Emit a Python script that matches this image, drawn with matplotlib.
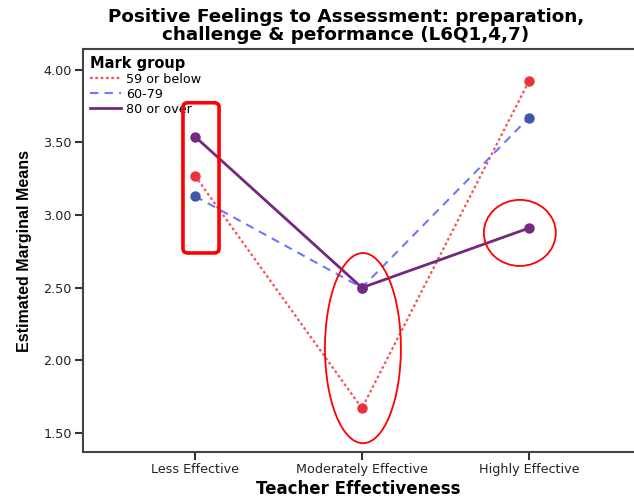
import numpy as np
import matplotlib.pyplot as plt
from matplotlib.patches import Ellipse, FancyBboxPatch

# data
effectiveness = ['Less Effective', 'Moderately Effective', 'Highly Effective']
below_59 = [3.27, 1.67, 3.92]
mid_60_79 = [3.13, 2.50, 3.67]
over_80 = [3.54, 2.50, 2.91]
y_ticks = [1.50, 2.00, 2.50, 3.00, 3.50, 4.00]

plt.rcParams['font.family'] = ['DejaVu Sans']

fig = plt.figure(figsize=(6.34, 4.98), dpi=100)
ax = fig.add_axes([83/634, 1 - 452/498, 1 - 83/634, (452 - 49)/498])

x = np.arange(len(effectiveness))

ax.plot(x, below_59, linestyle=(0, (1.2, 1.2)), color='#f0555c', lw=1.6,
        label='59 or below', zorder=3)
ax.plot(x, mid_60_79, linestyle=(0, (4, 3)), color='#6b78ff', lw=1.5,
        label='60-79', zorder=3)
ax.plot(x, over_80, linestyle='-', color='#74287f', lw=2.0,
        label='80 or over', zorder=4)

ax.scatter(x, below_59, s=42, color='#e8333c', zorder=5)
ax.scatter(x, mid_60_79, s=42, color='#3d57a8', zorder=5)
ax.scatter(x, over_80, s=42, color='#74287f', zorder=6)

# red highlight shapes drawn on top of the chart
box = FancyBboxPatch((-0.072, 2.739), 0.216, 1.034,
                     boxstyle='round,pad=0,rounding_size=0.03',
                     fill=False, ec='#ff0000', lw=2.6, zorder=7)
ax.add_patch(box)
ax.add_patch(Ellipse((1.006, 2.084), 0.455, 1.309, fill=False,
                     ec='#ff0000', lw=1.3, zorder=7))
ax.add_patch(Ellipse((1.946, 2.877), 0.431, 0.455, fill=False,
                     ec='#ff0000', lw=1.3, zorder=7))

ax.set_xlim(-0.671, 2.63)
ax.set_ylim(1.369, 4.143)
ax.set_xticks(x)
ax.set_xticklabels(effectiveness, fontsize=9.2, color='#222222')
ax.set_yticks(y_ticks)
ax.set_yticklabels(['%.2f' % v for v in y_ticks], fontsize=9.2, color='#222222')
ax.tick_params(axis='both', length=6, width=1.5, color='#333333', pad=2)

for side in ['left', 'bottom', 'top']:
    ax.spines[side].set_linewidth(1.5)
    ax.spines[side].set_color('#444444')
ax.spines['right'].set_visible(False)

ax.set_xlabel('Teacher Effectiveness', fontsize=12, fontweight='bold',
              labelpad=3)
ax.set_ylabel('Estimated Marginal Means', fontsize=11.5, fontweight='bold',
              family=['Liberation Sans Narrow', 'Liberation Sans'], labelpad=8)

fig.text(346/634, 1 - 26/498,
         'Positive Feelings to Assessment: preparation,\nchallenge & peformance (L6Q1,4,7)',
         ha='center', va='center', fontsize=13.2, fontweight='bold',
         linespacing=0.95)

leg = ax.legend(loc='upper left', bbox_to_anchor=(0.0, 1.0), frameon=False,
                title='Mark group', fontsize=9.2, handlelength=2.4,
                handletextpad=0.4, labelspacing=0.15, borderaxespad=0.25,
                borderpad=0.3)
leg.get_title().set_fontweight('bold')
leg.get_title().set_fontsize(10.5)
leg._legend_box.align = 'left'

fig.savefig('out.png', dpi=100)
